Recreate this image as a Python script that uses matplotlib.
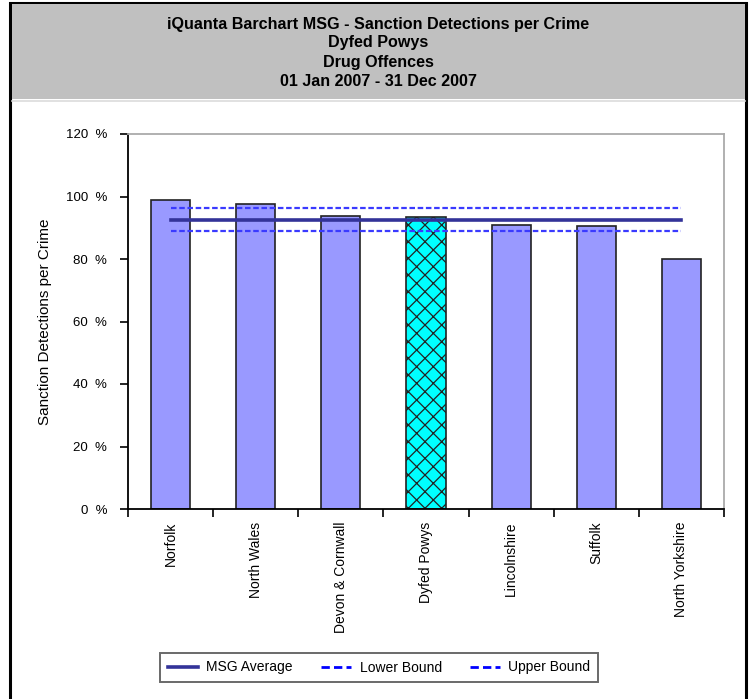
import matplotlib.pyplot as plt
from matplotlib.patches import Rectangle
from matplotlib.lines import Line2D
import numpy as np

plt.rcParams['font.family'] = ['Liberation Sans', 'DejaVu Sans']
plt.rcParams['hatch.linewidth'] = 0.9

forces = ["Norfolk", "North Wales", "Devon & Cornwall", "Dyfed Powys",
          "Lincolnshire", "Suffolk", "North Yorkshire"]
values = [98.9, 97.7, 93.8, 93.3, 91.0, 90.5, 80.0]
highlight = "Dyfed Powys"
msg_average = 92.6
lower_bound = 88.9
upper_bound = 96.4
title_lines = ["iQuanta Barchart MSG - Sanction Detections per Crime",
               "Dyfed Powys", "Drug Offences", "01 Jan 2007 - 31 Dec 2007"]
yticks = [0, 20, 40, 60, 80, 100, 120]

W, H = 750, 699
fig = plt.figure(figsize=(7.5, 6.99), dpi=100)

# outer frame and grey header
fig.add_artist(Rectangle((10 / W, -0.05), 736 / W, 1.05 - 3 / H, transform=fig.transFigure,
                         fill=False, edgecolor="black", linewidth=2.2, zorder=0))
fig.add_artist(Rectangle((11.5 / W, 1 - 99 / H), 733 / W, 95 / H, transform=fig.transFigure,
                         facecolor="#c0c0c0", edgecolor="none", zorder=0))
fig.add_artist(Line2D([11.5 / W, 744.5 / W], [1 - 100.5 / H] * 2, transform=fig.transFigure,
                      color="#dcdcdc", linewidth=1.2))
for i, line in enumerate(title_lines):
    fig.text(378 / W, 1 - (24 + i * 19) / H, line, ha="center", va="center",
             fontsize=11.6, fontweight="bold")

ax = fig.add_axes([128 / W, 1 - 509 / H, 596 / W, 375 / H])
x = np.arange(len(forces))
colors = ["#00ffff" if f == highlight else "#9999ff" for f in forces]
hatches = ["xx" if f == highlight else "" for f in forces]
bars = ax.bar(x, values, width=0.46, color=colors, edgecolor="#222222", linewidth=1.2, zorder=2)
for b, h in zip(bars, hatches):
    b.set_hatch(h)

ax.plot(x, [msg_average] * len(x), color="#333399", linewidth=2.6, zorder=3, label="MSG Average")
ax.plot(x, [lower_bound] * len(x), color="#3a3aff", linewidth=1.6, dashes=(2.5, 1.2), zorder=3,
        label="Lower Bound")
ax.plot(x, [upper_bound] * len(x), color="#3a3aff", linewidth=1.6, dashes=(2.5, 1.2), zorder=3,
        label="Upper Bound")

ax.set_xlim(-0.5, len(forces) - 0.5)
ax.set_ylim(0, 120)
ax.set_yticks(yticks)
ax.set_yticklabels([f"{t}  %" for t in yticks], fontsize=9.5)
ax.set_xticks(x)
ax.set_xticklabels(forces, rotation=90, fontsize=10)
ax.tick_params(axis="x", length=0, pad=9)
ax.set_xticks(np.arange(len(forces) + 1) - 0.5, minor=True)
ax.tick_params(axis="x", which="minor", length=6, width=1.2, direction="out")
ax.tick_params(axis="y", length=6, width=1.2, direction="out", pad=9)
ax.set_ylabel("Sanction Detections per Crime", fontsize=11)
ax.yaxis.set_label_coords((52 - 128) / 596, 0.5)

for s in ["left", "bottom"]:
    ax.spines[s].set_color("black")
    ax.spines[s].set_linewidth(1.3)
for s in ["top", "right"]:
    ax.spines[s].set_color("#aaaaaa")
    ax.spines[s].set_linewidth(1.3)

handles = [Line2D([], [], color="#333399", linewidth=2.6),
           Line2D([], [], color="#0000ff", linewidth=2, dashes=(3, 1.5)),
           Line2D([], [], color="#0000ff", linewidth=2, dashes=(3, 1.5))]
leg = fig.legend(handles, ["MSG Average", "Lower Bound", "Upper Bound"], ncol=3,
                 loc="center", bbox_to_anchor=(379 / W, 1 - 667.5 / H), fontsize=10,
                 fancybox=False, edgecolor="#444444", handlelength=2.2, columnspacing=2.0,
                 borderpad=0.55, handletextpad=0.6, borderaxespad=0)
leg.get_frame().set_linewidth(1.4)

fig.savefig("out.png", dpi=100)
